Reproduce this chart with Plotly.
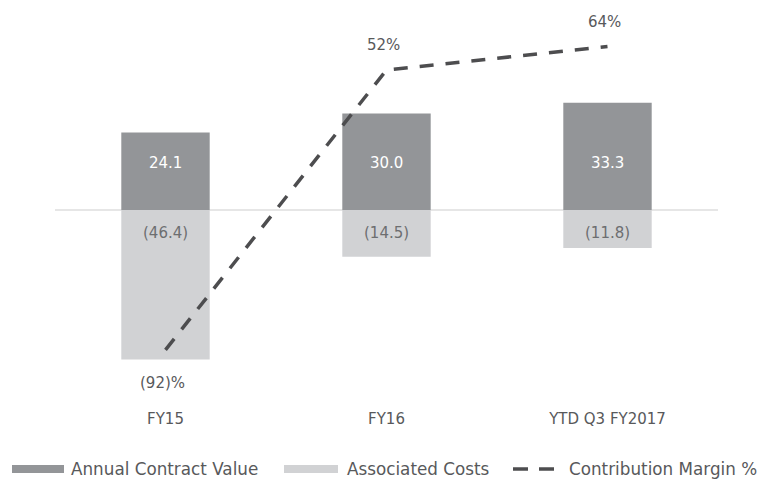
import plotly.graph_objects as go

# ---- data ----
categories = ["FY15", "FY16", "YTD Q3 FY2017"]
annual_contract_value = [24.1, 30.0, 33.3]
associated_costs = [-46.4, -14.5, -11.8]
contribution_margin = [-92, 52, 64]

series_names = ["Annual Contract Value", "Associated Costs", "Contribution Margin %"]

# ---- styles ----
W, H = 758, 480
ML, MR, MT, MB = 55, 40, 10, 80
PW, PH = W - ML - MR, H - MT - MB
FONT = "DejaVu Sans"
DARK = "#939598"
LIGHT = "#d1d2d4"
LINE = "#4d4d4f"
TXT = "#58595b"


def fmt_val(v):
    return f"({abs(v):.1f})" if v < 0 else f"{v:.1f}"


def fmt_pct(v):
    return f"({abs(v):.0f})%" if v < 0 else f"{v:.0f}%"


def px_x(px):
    return (px - ML) / PW


def px_y(py):
    return 1 - (py - MT) / PH


fig = go.Figure()
fig.add_trace(go.Bar(x=categories, y=annual_contract_value, name=series_names[0],
                     marker=dict(color=DARK, line=dict(width=0)), showlegend=False))
fig.add_trace(go.Bar(x=categories, y=associated_costs, name=series_names[1],
                     marker=dict(color=LIGHT, line=dict(width=0)), showlegend=False))
fig.add_trace(go.Scatter(x=categories, y=contribution_margin, name=series_names[2],
                         yaxis="y2", mode="lines",
                         line=dict(color=LINE, width=3.5, dash="14px,12px"),
                         showlegend=False))

annotations = []
for c, v in zip(categories, annual_contract_value):
    annotations.append(dict(x=c, y=0, xref="x", yref="y", text=fmt_val(v), showarrow=False,
                            yshift=47, font=dict(family=FONT, size=15, color="white")))
for c, v in zip(categories, associated_costs):
    annotations.append(dict(x=c, y=0, xref="x", yref="y", text=fmt_val(v), showarrow=False,
                            yshift=-23, font=dict(family=FONT, size=15, color="#6d6e70")))
for c, v in zip(categories, contribution_margin):
    annotations.append(dict(x=c, y=v, xref="x", yref="y2", text=fmt_pct(v), showarrow=False,
                            xshift=-3, yshift=(25 if v >= 0 else -33),
                            font=dict(family=FONT, size=15, color=TXT)))

# custom legend
leg_y = 469
shapes = [
    dict(type="rect", xref="paper", yref="paper", x0=px_x(12), x1=px_x(64),
         y0=px_y(leg_y + 4), y1=px_y(leg_y - 4), fillcolor=DARK, line=dict(width=0)),
    dict(type="rect", xref="paper", yref="paper", x0=px_x(284), x1=px_x(338),
         y0=px_y(leg_y + 4), y1=px_y(leg_y - 4), fillcolor=LIGHT, line=dict(width=0)),
    dict(type="line", xref="paper", yref="paper", x0=px_x(513), x1=px_x(559),
         y0=px_y(leg_y), y1=px_y(leg_y), line=dict(color=LINE, width=3.5, dash="15px,11px")),
]
for name, lx in zip(series_names, [69, 345, 567]):
    annotations.append(dict(x=px_x(lx), y=px_y(leg_y), xref="paper", yref="paper",
                            xanchor="left", yanchor="middle", text=name, showarrow=False,
                            font=dict(family=FONT, size=16.8, color=TXT)))

# axis ranges so that zero of bars sits at y=210 px and margin line fits
BAR_ZERO, BAR_SCALE = 210, 3.22
M_ZERO, M_SCALE = 171, 1.944
y_range = [-(MT + PH - BAR_ZERO) / BAR_SCALE, (BAR_ZERO - MT) / BAR_SCALE]
y2_range = [-(MT + PH - M_ZERO) / M_SCALE, (M_ZERO - MT) / M_SCALE]

fig.update_layout(
    width=W, height=H,
    margin=dict(l=ML, r=MR, t=MT, b=MB),
    paper_bgcolor="white", plot_bgcolor="white",
    barmode="relative", bargap=0.6,
    showlegend=False,
    font=dict(family=FONT, size=15, color=TXT),
    xaxis=dict(type="category", range=[-0.5, 2.5], showgrid=False, showline=False,
               ticks="", ticklabelstandoff=8,
               tickfont=dict(family=FONT, size=15, color=TXT)),
    yaxis=dict(range=y_range, showgrid=False, showticklabels=False, showline=False,
               zeroline=True, zerolinecolor="#e6e6e6", zerolinewidth=2),
    yaxis2=dict(range=y2_range, overlaying="y", side="right", showgrid=False,
                showticklabels=False, showline=False, zeroline=False),
    annotations=annotations,
    shapes=shapes,
)

fig.write_html("out.html", config={"displayModeBar": False},
               post_script="document.body.style.margin='0px';")
